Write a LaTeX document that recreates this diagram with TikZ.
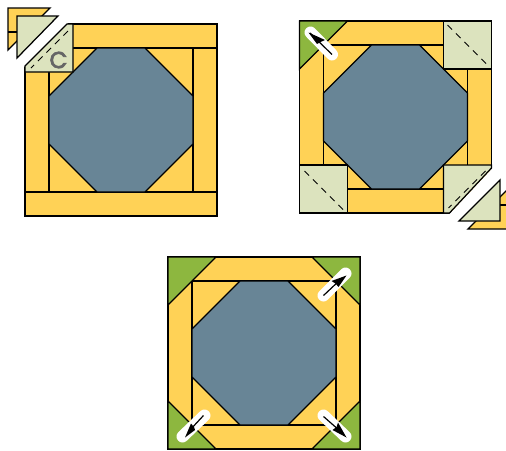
\documentclass[tikz,border=0pt]{standalone}
\usepackage{fontspec}
\newfontfamily\labelfont[FakeBold=3.5]{Poppins}
\usetikzlibrary{arrows.meta}
\definecolor{quiltyellow}{HTML}{FFD256}
\definecolor{quiltblue}{HTML}{688596}
\definecolor{quiltgreen}{HTML}{8DB73F}
\definecolor{quiltlight}{HTML}{DCE3BE}
\definecolor{labelgray}{HTML}{666666}
\tikzset{
  x=1pt,y=-1pt,
  seam/.style={draw=black,line width=1.25pt,line join=miter},
  yellowpiece/.style={seam,fill=quiltyellow},
  bluepiece/.style={seam,fill=quiltblue},
  greenpiece/.style={seam,fill=quiltgreen},
  lightpiece/.style={seam,fill=quiltlight},
  stitch/.style={draw=black,line width=1pt,dash pattern=on 6.5pt off 5.5pt},
  capsule/.style={draw=white,line width=12pt,line cap=round},
  needle/.style={draw=black,line width=1.2pt},
  needlehead/.style={fill=black}
}
\newcommand{\quiltblock}{%
  \path[yellowpiece] (0,0) rectangle (192,192);
  \path[seam] (24,24) rectangle (168,168);
  \path[bluepiece] (72,24) -- (120,24) -- (168,72) -- (168,120) -- (120,168) -- (72,168) -- (24,120) -- (24,72) -- cycle;
}
\begin{document}
\begin{tikzpicture}
\useasboundingbox (0,0) rectangle (506,450);
\clip (0,0) rectangle (506,450);
% first block
\begin{scope}[shift={(25,24)}]
  \quiltblock
  \path[seam] (168,24) -- (192,24);
  \path[seam] (0,168) -- (24,168);
  \path[seam] (168,168) -- (192,168);
  \fill[white] (-2,-2) -- (44,-2) -- (-2,44) -- cycle;
  \path[lightpiece] (42,0) -- (48,0) -- (48,48) -- (0,48) -- (0,42) -- cycle;
  \path[stitch] (43,7) -- (6,44);
  \node[text=labelgray,font=\labelfont\fontsize{23}{23}\selectfont,inner sep=0pt] (labelc) at (33.5,36) {C};
\end{scope}
\path[yellowpiece] (8,8) -- (50,8) -- (8,50) -- cycle;
\path[seam] (8,32) -- (18,32);
\path[lightpiece] (17,16) -- (58,16) -- (17,58) -- cycle;
% second block
\begin{scope}[shift={(299.5,21)}]
  \quiltblock
  \path[greenpiece] (0,0) -- (48,0) -- (0,48) -- cycle;
  \path[lightpiece] (144,0) rectangle (192,48);
  \path[stitch] (148,4) -- (189,45);
  \path[lightpiece] (0,144) rectangle (48,192);
  \path[stitch] (5,150) -- (44,189);
  \fill[white] (194,146) -- (194,194) -- (149,194) -- cycle;
  \path[lightpiece] (144,144) -- (192,144) -- (192,147) -- (150,192) -- (144,192) -- cycle;
  \path[stitch] (186,150) -- (149,187);
\end{scope}
\path[yellowpiece] (468,229) -- (509,188) -- (509,229) -- cycle;
\path[seam] (500,205) -- (509,205);
\path[lightpiece] (459,221) -- (500,180) -- (500,221) -- cycle;
\path[capsule] (310.5,32.5) -- (332,54.5);
\path[needle] (332,54.5) -- (310,33);
\fill[needlehead] (308.5,32.5) -- (325,40) -- (320.5,42) -- (317,44) -- cycle;
% third block
\begin{scope}[shift={(168,257)}]
  \quiltblock
  \path[greenpiece] (0,0) -- (48,0) -- (0,48) -- cycle;
  \path[greenpiece] (144,0) -- (192,0) -- (192,48) -- cycle;
  \path[greenpiece] (0,144) -- (48,192) -- (0,192) -- cycle;
  \path[greenpiece] (192,144) -- (192,192) -- (144,192) -- cycle;
\end{scope}
\path[capsule] (323.5,295.5) -- (345.5,273.5);
\path[needle] (323.5,295.5) -- (340,280);
\fill[needlehead] (346.5,275.5) -- (331.5,281) -- (335.5,283.5) -- (338.5,287) -- cycle;
\path[capsule] (204.5,415.5) -- (182.5,436.5);
\path[needle] (203.5,415.5) -- (190,430);
\fill[needlehead] (185,437.5) -- (191,423.5) -- (194,427) -- (195,430) -- cycle;
\path[capsule] (323.5,415.5) -- (345.5,436.5);
\path[needle] (323.5,416.5) -- (340,431);
\fill[needlehead] (346.5,437.5) -- (338,422.5) -- (336.5,427) -- (332.5,430) -- cycle;
\end{tikzpicture}
\end{document}
